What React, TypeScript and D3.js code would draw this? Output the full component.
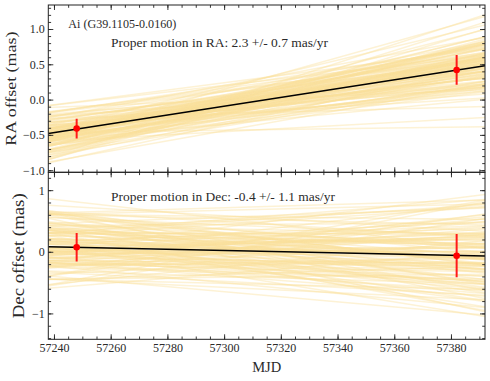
import React, { useRef, useEffect } from "react";
import * as d3 from "d3";

// observed epochs and offsets (mas)
const obsMjd = [57248, 57382];
const raOffset = [-0.41, 0.42];
const raError = [0.14, 0.21];
const decOffset = [0.074, -0.063];
const decError = [0.23, 0.35];

// best fit line, evaluated at the plot edges
const edgeMjd = [57238, 57392];
const raFit = [-0.48, 0.48];
const decFit = [0.08, -0.07];

// MC samples: offset at the reference epoch (mas) and proper motion (mas/yr)
const raPivotMjd = 57289;
const decPivotMjd = 57288;

const raSamplePm = [
  2.1, 2.9, 1.6, 2.4, 3.2, 1.9, 2.6, 2.2, 1.2, 2.8,
  3.6, 2.0, 2.5, 1.7, 2.3, 3.0, 1.4, 2.7, 2.1, 3.4,
  2.4, 1.8, 2.9, 0.9, 2.6, 2.2, 3.1, 1.5, 2.0, 2.7,
  2.5, 3.8, 1.9, 2.3, 1.3, 2.8, 2.1, 3.3, 1.7, 2.4,
  2.6, 2.0, 4.1, 2.2, 1.6, 2.9, 2.4, 1.1, 3.0, 2.5,
  1.8, 2.7, 2.3, 3.5, 2.0, 1.5, 2.6, 2.9, 0.6, 2.2,
  3.1, 2.4, 1.9, 2.8, 2.1, 3.7, 1.4, 2.5, 2.3, 2.0,
  3.2, 1.7, 2.6, 2.2, 4.4, 1.9, 2.8, 2.4, 1.0, 2.7,
  2.1, 3.0, 1.6, 2.5, 2.3, 3.4, 1.8, 2.9, 2.2, 1.3,
  1.5, 3.1, 2.0, 2.7, 0.2, 2.4, 3.9, 1.8, 2.6, 2.2,
  4.6, 1.2, 2.9, 2.3, 1.7, 3.3, 2.5, 0.8, 2.1, 3.6,
  2.8, 1.4, 2.4, 4.0, 1.9, 2.6, 0.4, 3.2, 2.0, 2.7,
  1.6, 3.5, 2.3, 1.1, 2.9, 4.8, 2.2, 1.9, 3.0, 2.5,
];
const raSampleOffset = [
  -0.12, -0.22, -0.05, -0.18, -0.3, -0.14, -0.09, -0.25, -0.16, -0.02,
  -0.2, -0.35, -0.11, -0.17, -0.27, -0.07, -0.13, -0.21, 0.05, -0.19,
  -0.15, -0.4, -0.1, -0.23, -0.06, -0.18, -0.28, -0.12, -0.01, -0.16,
  -0.24, -0.08, -0.33, -0.14, -0.19, -0.04, -0.26, -0.11, -0.17, -0.45,
  -0.13, -0.21, 0.02, -0.15, -0.29, -0.09, -0.18, -0.23, -0.12, -0.36,
  -0.07, -0.16, -0.25, -0.1, 0.1, -0.2, -0.14, -0.31, -0.03, -0.17,
  -0.22, -0.12, -0.38, -0.08, -0.19, -0.15, -0.27, -0.05, -0.13, -0.21,
  -0.1, -0.3, -0.16, 0.0, -0.24, -0.11, -0.18, -0.42, -0.09, -0.14,
  -0.26, -0.06, -0.2, -0.13, -0.33, -0.17, 0.06, -0.23, -0.11, -0.19,
  -0.02, -0.31, -0.16, 0.12, -0.44, -0.08, -0.24, 0.08, -0.52, -0.13,
  -0.2, -0.04, -0.35, -0.1, 0.15, -0.27, -0.18, -0.48, -0.06, -0.22,
  0.03, -0.39, -0.14, -0.29, 0.18, -0.11, -0.21, -0.45, -0.01, -0.17,
  -0.33, 0.07, -0.25, -0.09, -0.41, -0.15, 0.12, -0.28, -0.05, -0.19,
];
const decSamplePm = [
  -0.2, -1.5, 0.6, -0.8, 0.3, -0.5, -2.1, 0.9, -0.3, -1.1,
  1.4, -0.6, -0.1, -1.8, 0.2, -0.9, 1.1, -0.4, -2.6, 0.5,
  -0.7, -1.3, 0.0, -0.2, 1.8, -1.0, -0.5, 0.4, -3.0, -0.8,
  0.7, -1.6, -0.3, 1.2, -0.6, -1.2, 0.1, -2.3, -0.1, 0.8,
  -0.9, -0.4, 2.1, -1.4, -0.7, 0.3, -1.9, -0.2, 0.6, -1.1,
  -0.5, 1.5, -0.8, -2.0, 0.0, -0.3, -1.7, 0.9, -0.6, -1.0,
  0.4, -2.8, -0.4, 1.0, -1.2, -0.1, 0.2, -1.5, 2.4, -0.7,
  -0.9, 0.7, -1.3, -0.2, -2.2, 0.5, -0.5, 1.3, -1.0, -0.3,
  0.1, -1.6, -0.8, 1.7, -0.4, -2.4, 0.3, -1.1, -0.6, 0.8,
  -1.9, 0.9, -0.4, -2.7, 1.6, -1.0, 0.2, -3.3, -0.6, 2.6,
  -1.4, 0.5, -0.1, -2.0, 1.1, -0.8, -3.6, 0.0, -1.2, 2.0,
  -0.5, 1.3, -2.5, -0.2, 0.7, -1.7, 2.9, -0.9, -0.3, 0.4,
  -2.2, 1.8, -0.7, -1.1, 3.2, -0.4, -1.5, 0.6, -2.9, 0.1,
];
const decSampleOffset = [
  0.05, -0.18, 0.25, -0.05, 0.12, -0.3, 0.38, 0.02, -0.12, 0.2,
  -0.4, 0.08, 0.3, -0.08, 0.15, -0.22, 0.45, 0.0, -0.15, 0.1,
  0.28, -0.35, 0.06, 0.18, -0.02, 0.52, -0.25, 0.13, -0.1, 0.34,
  0.03, -0.45, 0.22, -0.06, 0.09, 0.4, -0.2, 0.16, -0.03, 0.26,
  -0.14, 0.07, 0.33, -0.28, 0.11, -0.01, 0.6, -0.17, 0.21, 0.04,
  -0.32, 0.14, -0.09, 0.36, 0.01, -0.24, 0.19, 0.48, -0.11, 0.08,
  -0.04, 0.27, -0.5, 0.12, 0.23, -0.16, 0.03, 0.42, -0.07, 0.17,
  -0.26, 0.1, 0.31, -0.13, 0.05, -0.38, 0.24, 0.0, 0.15, -0.21,
  0.44, -0.08, 0.11, -0.3, 0.29, 0.02, -0.19, 0.2, -0.02, 0.09,
  0.35, -0.12, 0.55, -0.28, 0.08, 0.62, -0.42, 0.18, -0.05, -0.2,
  0.27, 0.7, -0.2, 0.12, 0.41, -0.55, 0.05, 0.3, -0.15, 0.22,
  -0.38, 0.48, -0.08, 0.58, -0.26, 0.14, 0.01, -0.45, 0.38, 0.66,
  -0.18, 0.09, 0.46, -0.32, -0.1, 0.25, -0.6, 0.54, 0.2, -0.02,
];

const mjdTicks = [57240, 57260, 57280, 57300, 57320, 57340, 57360, 57380];
const raTicks = [-1.0, -0.5, 0.0, 0.5, 1.0];
const decTicks = [-1, 0, 1];

const W = 490;
const H = 381;
const left = 48.3;
const right = 485;
const serif = "'Liberation Serif', 'DejaVu Serif', serif";
const sampleColor = "#fbdf9c";
const textColor = "#2a2a2a";

const App = () => {
  const svgRef = useRef<SVGSVGElement>(null);

  useEffect(() => {
    const svg = d3.select(svgRef.current);
    svg.selectAll("*").remove();

    const x = d3.scaleLinear().domain(edgeMjd).range([left, right]);

    const panels = [
      {
        id: "ra",
        top: 5,
        bottom: 172.3,
        domain: [-1.03, 1.34],
        ticks: raTicks,
        minor: 0.1,
        fmt: (d) => d3.format(".1f")(d).replace("-", "\u2212"),
        offset: raOffset,
        err: raError,
        fit: raFit,
        pivot: raPivotMjd,
        pm: raSamplePm,
        off: raSampleOffset,
        label: "RA offset (mas)",
        labelX: 16,
        labelSize: 15.5,
        labelLen: 114,
        note: "Proper motion in RA: 2.3 +/- 0.7 mas/yr",
        noteY: 46.8,
        noteLen: 217,
        xLabels: false,
      },
      {
        id: "dec",
        top: 172.3,
        bottom: 339.3,
        domain: [-1.42, 1.29],
        ticks: decTicks,
        minor: 0.2,
        fmt: (d) => d3.format("d")(d).replace("-", "\u2212"),
        offset: decOffset,
        err: decError,
        fit: decFit,
        pivot: decPivotMjd,
        pm: decSamplePm,
        off: decSampleOffset,
        label: "Dec offset (mas)",
        labelX: 24,
        labelSize: 16.5,
        labelLen: 125,
        note: "Proper motion in Dec: -0.4 +/- 1.1 mas/yr",
        noteY: 200.8,
        noteLen: 224,
        xLabels: true,
      },
    ];

    panels.forEach((p) => {
      const y = d3.scaleLinear().domain(p.domain).range([p.bottom, p.top]);
      const g = svg.append("g");

      g.append("clipPath")
        .attr("id", `clip-${p.id}`)
        .append("rect")
        .attr("x", left)
        .attr("y", p.top)
        .attr("width", right - left)
        .attr("height", p.bottom - p.top);

      const plot = g.append("g").attr("clip-path", `url(#clip-${p.id})`);

      // MC sample lines
      const at = (off, pm, mjd) => off + (pm * (mjd - p.pivot)) / 365.25;
      const samples = p.pm.map((pm, i) => ({ pm, off: p.off[i] }));
      plot
        .selectAll(".sample")
        .data(samples)
        .enter()
        .append("line")
        .attr("x1", x(edgeMjd[0]))
        .attr("x2", x(edgeMjd[1]))
        .attr("y1", (d) => y(at(d.off, d.pm, edgeMjd[0])))
        .attr("y2", (d) => y(at(d.off, d.pm, edgeMjd[1])))
        .attr("stroke", sampleColor)
        .attr("stroke-opacity", 0.42)
        .attr("stroke-width", 1.5);

      // best fit
      plot
        .append("line")
        .attr("x1", x(edgeMjd[0]))
        .attr("x2", x(edgeMjd[1]))
        .attr("y1", y(p.fit[0]))
        .attr("y2", y(p.fit[1]))
        .attr("stroke", "#000")
        .attr("stroke-width", 1.5);

      // data points with error bars
      const pts = obsMjd.map((m, i) => ({ m, v: p.offset[i], e: p.err[i] }));
      plot
        .selectAll(".ebar")
        .data(pts)
        .enter()
        .append("line")
        .attr("x1", (d) => x(d.m))
        .attr("x2", (d) => x(d.m))
        .attr("y1", (d) => y(d.v - d.e))
        .attr("y2", (d) => y(d.v + d.e))
        .attr("stroke", "#ff1a1a")
        .attr("stroke-width", 2);
      plot
        .selectAll(".pt")
        .data(pts)
        .enter()
        .append("circle")
        .attr("cx", (d) => x(d.m))
        .attr("cy", (d) => y(d.v))
        .attr("r", 3.3)
        .attr("fill", "#ff0000");

      // axes, ticks pointing inward on all four sides
      const minorY = d3
        .range(Math.ceil(p.domain[0] / p.minor), Math.floor(p.domain[1] / p.minor) + 1)
        .map((k) => +(k * p.minor).toFixed(2));
      const minorX = d3.range(57240, 57392, 5);

      const styleAxis = (sel) => {
        sel.select(".domain").remove();
        sel.selectAll("line").attr("stroke", "#222").attr("stroke-width", 0.9);
      };

      g.append("g")
        .attr("transform", `translate(${left},0)`)
        .call(d3.axisLeft(y).tickValues(minorY).tickSize(-2.8).tickFormat(() => ""))
        .call(styleAxis);
      g.append("g")
        .attr("transform", `translate(${right},0)`)
        .call(d3.axisRight(y).tickValues(minorY).tickSize(-2.8).tickFormat(() => ""))
        .call(styleAxis);
      g.append("g")
        .attr("transform", `translate(${right},0)`)
        .call(d3.axisRight(y).tickValues(p.ticks).tickSize(-5).tickFormat(() => ""))
        .call(styleAxis);
      const yAxis = g
        .append("g")
        .attr("transform", `translate(${left},0)`)
        .call(d3.axisLeft(y).tickValues(p.ticks).tickSize(-5).tickPadding(3.5).tickFormat(p.fmt))
        .call(styleAxis);
      yAxis
        .selectAll("text")
        .attr("font-family", serif)
        .attr("font-size", 12)
        .attr("fill", textColor);

      [p.top, p.bottom].forEach((yy, k) => {
        const make = k === 0 ? d3.axisTop : d3.axisBottom;
        g.append("g")
          .attr("transform", `translate(0,${yy})`)
          .call(make(x).tickValues(minorX).tickSize(-2.8).tickFormat(() => ""))
          .call(styleAxis);
        const ax = g
          .append("g")
          .attr("transform", `translate(0,${yy})`)
          .call(
            make(x)
              .tickValues(mjdTicks)
              .tickSize(-5)
              .tickPadding(4)
              .tickFormat((d) => (k === 1 && p.xLabels ? String(d) : ""))
          )
          .call(styleAxis);
        ax.selectAll("text")
          .attr("font-family", serif)
          .attr("font-size", 12)
          .attr("fill", textColor);
      });

      // frame
      g.append("rect")
        .attr("x", left)
        .attr("y", p.top)
        .attr("width", right - left)
        .attr("height", p.bottom - p.top)
        .attr("fill", "none")
        .attr("stroke", "#222")
        .attr("stroke-width", 1);

      // y label
      g.append("text")
        .attr("transform", `translate(${p.labelX},${(p.top + p.bottom) / 2}) rotate(-90)`)
        .attr("text-anchor", "middle")
        .attr("font-family", serif)
        .attr("font-size", p.labelSize)
        .attr("fill", textColor)
        .attr("textLength", p.labelLen)
        .attr("lengthAdjust", "spacingAndGlyphs")
        .text(p.label);

      // proper motion note
      g.append("text")
        .attr("x", 111)
        .attr("y", p.noteY)
        .attr("font-family", serif)
        .attr("font-size", 11.5)
        .attr("fill", textColor)
        .attr("textLength", p.noteLen)
        .attr("lengthAdjust", "spacingAndGlyphs")
        .text(p.note);
    });

    svg
      .append("text")
      .attr("x", 68.3)
      .attr("y", 28.2)
      .attr("font-family", serif)
      .attr("font-size", 11.5)
      .attr("fill", textColor)
      .attr("textLength", 108)
      .attr("lengthAdjust", "spacingAndGlyphs")
      .text("Ai (G39.1105-0.0160)");

    svg
      .append("text")
      .attr("x", (left + right) / 2)
      .attr("y", 372)
      .attr("text-anchor", "middle")
      .attr("font-family", serif)
      .attr("font-size", 14.5)
      .attr("fill", textColor)
      .text("MJD");
  }, []);

  return (
    <svg
      ref={svgRef}
      width={W}
      height={H}
      style={{ position: "absolute", left: 0, top: 0, background: "#fff" }}
    />
  );
};

export default App;
